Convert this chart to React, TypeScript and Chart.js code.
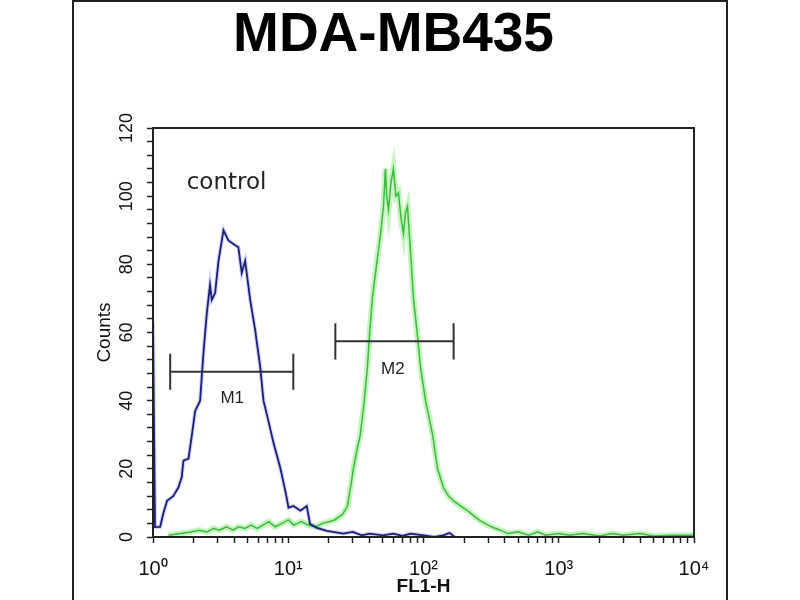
import { useEffect, useRef } from "react";
import { Chart, registerables } from "chart.js";

Chart.register(...registerables);

const TITLE = "MDA-MB435";
const X_TITLE = "FL1-H";
const Y_TITLE = "Counts";

// log axis: decades and their labels, minor ticks at 2..9 of each decade
const X_MAJOR = [1, 10, 100, 1000, 10000];
const X_MAJOR_LABELS = ["10⁰", "10¹", "10²", "10³", "10⁴"];
const X_MINOR_STEPS = [2, 3, 4, 5, 6, 7, 8, 9];

const Y_MAX = 120;
const Y_STEP = 4;
const Y_LABEL_STEP = 20;

// control histogram (blue)
const CONTROL_X = [
  1, 1.035, 1.13, 1.19, 1.27, 1.41, 1.54, 1.63, 1.68, 1.83, 1.94, 2.05, 2.23,
  2.36, 2.5, 2.64, 2.72, 2.88, 3.05, 3.32, 3.61, 3.93, 4.28, 4.53, 4.8, 5.23,
  5.69, 6.2, 6.56, 7.14, 7.8, 8.72, 9.5, 10.05, 10.93, 12.3, 13.7, 14.5, 16.3,
  19.3, 25.5, 30, 35, 40, 50, 60, 70, 80, 100, 120, 140, 156, 170,
];
const CONTROL_Y = [
  63, 2.9, 3, 6.8, 10.6, 12, 14.5, 17.5, 22.4, 23, 30, 37, 40, 54, 65.7, 74,
  69.6, 71.6, 81, 90, 87, 86, 85, 77.5, 81, 69.6, 60.8, 50, 40, 34, 27.4, 20.4,
  13.6, 8.6, 9.1, 7.7, 9.1, 3.8, 2.7, 1.8, 1, 1.5, 0.5, 1, 0.5, 1, 0.3, 1, 0.5,
  0, 0.5, 1.2, 0,
];

// antibody histogram (green)
const SAMPLE_X = [
  1.3, 1.6, 1.9, 2.2, 2.5, 2.8, 3.1, 3.5, 3.9, 4.3, 4.8, 5.3, 5.9, 6.5, 7.2, 8,
  9, 10, 11, 12.5, 14, 16, 18, 20, 22, 25, 27.4, 29, 30.3, 32, 34.1, 36.5, 38.5,
  40, 41.9, 44, 46.4, 48.5, 50.6, 52.3, 53.5, 55.1, 57.5, 59.9, 62.5, 65.3, 68,
  71.1, 73.5, 76.1, 80.1, 84.3, 90.3, 95, 103.5, 110, 116.7, 127, 140.6, 153,
  166.8, 190, 211.8, 240, 264, 300, 330, 370, 419, 500, 600, 700, 800, 1000,
  1200, 1500, 2000, 2500, 3000, 4000, 5000, 7000, 10000,
];
const SAMPLE_Y = [
  0.5, 1, 1.5, 2, 1.5, 2.5, 2, 3, 2, 3, 2.5, 3.5, 2.5, 3.5, 4.5, 3, 4, 5, 3.5,
  4.5, 3.5, 3, 4, 4.5, 5, 6.5, 9, 15, 20, 25, 30, 40, 50, 60, 70, 77, 84, 90, 97,
  108, 100, 96, 104, 108, 100, 101, 94, 89, 95, 97, 84, 70, 59, 50, 40, 35, 30,
  20, 14.5, 12, 10.6, 9, 7.7, 6, 4.7, 3.5, 2.7, 2, 1, 1.5, 0.5, 1.5, 0.5, 1,
  0.5, 1, 0.3, 1, 0.5, 1, 0.3, 0.5, 0.5,
];

// gate markers
const MARKER_NAMES = ["M1", "M2"];
const MARKER_START = [1.34, 22.3];
const MARKER_END = [10.9, 167];
const MARKER_LEVEL = [48.5, 57.4];
const MARKER_CAP = 5.3;
const MARKER_LABEL_X = [3.85, 59.4];
const MARKER_LABEL_Y = [40.8, 49.1];

const NOTE_TEXT = "control";
const NOTE_X = 3.5;
const NOTE_Y = 104;

const AXIS_COLOR = "#222";

function zip(xs: number[], ys: number[]) {
  return xs.map((x, i) => ({ x, y: ys[i] }));
}

function markerPoints(i: number) {
  const s = MARKER_START[i];
  const e = MARKER_END[i];
  const l = MARKER_LEVEL[i];
  return [
    { x: s, y: l - MARKER_CAP },
    { x: s, y: l + MARKER_CAP },
    { x: s, y: null },
    { x: s, y: l },
    { x: e, y: l },
    { x: e, y: null },
    { x: e, y: l - MARKER_CAP },
    { x: e, y: l + MARKER_CAP },
  ];
}

const boxPlugin = {
  id: "plotBox",
  afterDatasetsDraw(chart: any) {
    const { ctx, chartArea } = chart;
    ctx.save();
    ctx.strokeStyle = AXIS_COLOR;
    ctx.lineWidth = 2;
    ctx.strokeRect(
      chartArea.left,
      chartArea.top,
      chartArea.right - chartArea.left,
      chartArea.bottom - chartArea.top,
    );
    ctx.restore();
  },
};

const textPlugin = {
  id: "plotText",
  afterDatasetsDraw(chart: any) {
    const { ctx } = chart;
    const x = chart.scales.x;
    const y = chart.scales.y;
    ctx.save();
    ctx.fillStyle = "#222";
    ctx.textAlign = "center";
    ctx.textBaseline = "middle";
    ctx.font = "23px 'DejaVu Sans'";
    ctx.fillText(NOTE_TEXT, x.getPixelForValue(NOTE_X), y.getPixelForValue(NOTE_Y));
    ctx.font = "17px 'Liberation Sans'";
    MARKER_NAMES.forEach((name, i) => {
      ctx.fillText(
        name,
        x.getPixelForValue(MARKER_LABEL_X[i]),
        y.getPixelForValue(MARKER_LABEL_Y[i]),
      );
    });
    ctx.restore();
  },
};

export default function App() {
  const canvasRef = useRef<HTMLCanvasElement>(null);
  const chartRef = useRef<Chart | null>(null);

  useEffect(() => {
    if (!canvasRef.current) return;
    if (chartRef.current) chartRef.current.destroy();

    const xTicks: number[] = [];
    X_MAJOR.forEach((m, i) => {
      xTicks.push(m);
      if (i < X_MAJOR.length - 1) X_MINOR_STEPS.forEach((s) => xTicks.push(m * s));
    });

    const lineDefaults = {
      showLine: true,
      pointRadius: 0,
      pointHoverRadius: 0,
      fill: false,
      tension: 0,
    };

    chartRef.current = new Chart(canvasRef.current, {
      type: "scatter",
      data: {
        datasets: [
          {
            ...lineDefaults,
            label: "M1",
            data: markerPoints(0),
            borderColor: "#333",
            borderWidth: 2,
            order: 1,
          },
          {
            ...lineDefaults,
            label: "M2",
            data: markerPoints(1),
            borderColor: "#333",
            borderWidth: 2,
            order: 1,
          },
          {
            ...lineDefaults,
            label: "control",
            data: zip(CONTROL_X, CONTROL_Y),
            borderColor: "#1e1e7a",
            borderWidth: 1.8,
            order: 2,
          },
          {
            ...lineDefaults,
            label: "sample",
            data: zip(SAMPLE_X, SAMPLE_Y),
            borderColor: "#3dbb3d",
            borderWidth: 1.5,
            order: 3,
          },
          {
            ...lineDefaults,
            label: "control glow",
            data: zip(CONTROL_X, CONTROL_Y),
            borderColor: "rgba(110,130,220,0.35)",
            borderWidth: 4,
            order: 4,
          },
          {
            ...lineDefaults,
            label: "sample glow",
            data: zip(SAMPLE_X, SAMPLE_Y),
            borderColor: "rgba(150,235,140,0.55)",
            borderWidth: 6,
            order: 5,
          },
        ],
      },
      options: {
        animation: false,
        responsive: false,
        layout: { padding: { left: 0, right: 13, top: 0, bottom: 0 } },
        plugins: {
          legend: { display: false },
          tooltip: { enabled: false },
          title: {
            display: true,
            text: TITLE,
            color: "#000",
            font: { family: "'Liberation Sans', Arial", size: 55, weight: "bold" },
            padding: { top: 3, bottom: 59 },
          },
        },
        scales: {
          x: {
            type: "logarithmic",
            min: 1,
            max: 10000,
            afterBuildTicks: (scale: any) => {
              scale.ticks = xTicks.map((v) => ({ value: v, major: X_MAJOR.includes(v) }));
            },
            afterFit: (scale: any) => {
              scale.height = 63;
            },
            border: { display: true, color: AXIS_COLOR, width: 2 },
            grid: {
              display: true,
              drawOnChartArea: false,
              drawTicks: true,
              tickLength: 6,
              tickColor: AXIS_COLOR,
              tickWidth: 1.5,
            },
            ticks: {
              autoSkip: false,
              maxRotation: 0,
              minRotation: 0,
              padding: 14,
              color: "#111",
              font: { family: "'Liberation Sans', Arial", size: 20 },
              callback: (value: any) => {
                const i = X_MAJOR.indexOf(Number(value));
                return i >= 0 ? X_MAJOR_LABELS[i] : "";
              },
            },
            title: {
              display: true,
              text: X_TITLE,
              color: "#111",
              font: { family: "'Liberation Sans', Arial", size: 19, weight: "bold" },
              padding: { top: 0, bottom: 2 },
            },
          },
          y: {
            type: "linear",
            min: 0,
            max: Y_MAX,
            afterFit: (scale: any) => {
              scale.width = 153;
            },
            border: { display: true, color: AXIS_COLOR, width: 2 },
            grid: {
              display: true,
              drawOnChartArea: false,
              drawTicks: true,
              tickLength: 6,
              tickColor: AXIS_COLOR,
              tickWidth: 1.5,
            },
            ticks: {
              stepSize: Y_STEP,
              autoSkip: false,
              minRotation: 90,
              maxRotation: 90,
              crossAlign: "center",
              padding: 5,
              color: "#111",
              font: { family: "'Liberation Sans', Arial", size: 18 },
              callback: (value: any) =>
                Number(value) % Y_LABEL_STEP === 0 ? String(value) : "",
            },
            title: {
              display: true,
              text: Y_TITLE,
              color: "#111",
              font: { family: "'Liberation Sans', Arial", size: 19 },
              padding: { top: 93, bottom: 0 },
            },
          },
          yRight: {
            type: "linear",
            position: "right",
            min: 0,
            max: Y_MAX,
            display: true,
            afterFit: (scale: any) => {
              scale.width = 93;
            },
            border: { display: false },
            grid: { display: false },
            ticks: { display: false },
          },
        },
      },
      plugins: [boxPlugin, textPlugin],
    } as any);

    return () => {
      if (chartRef.current) {
        chartRef.current.destroy();
        chartRef.current = null;
      }
    };
  }, []);

  return (
    <div
      style={{
        position: "fixed",
        left: 0,
        top: 0,
        width: 800,
        height: 600,
        background: "#fff",
        overflow: "hidden",
      }}
    >
      <div
        style={{
          position: "absolute",
          left: 72,
          top: 0,
          width: 652,
          height: 620,
          borderTop: "2px solid #222",
          borderLeft: "2px solid #222",
          borderRight: "2px solid #222",
        }}
      />
      <canvas
        ref={canvasRef}
        width={800}
        height={600}
        style={{ position: "absolute", left: 0, top: 0 }}
      />
    </div>
  );
}
